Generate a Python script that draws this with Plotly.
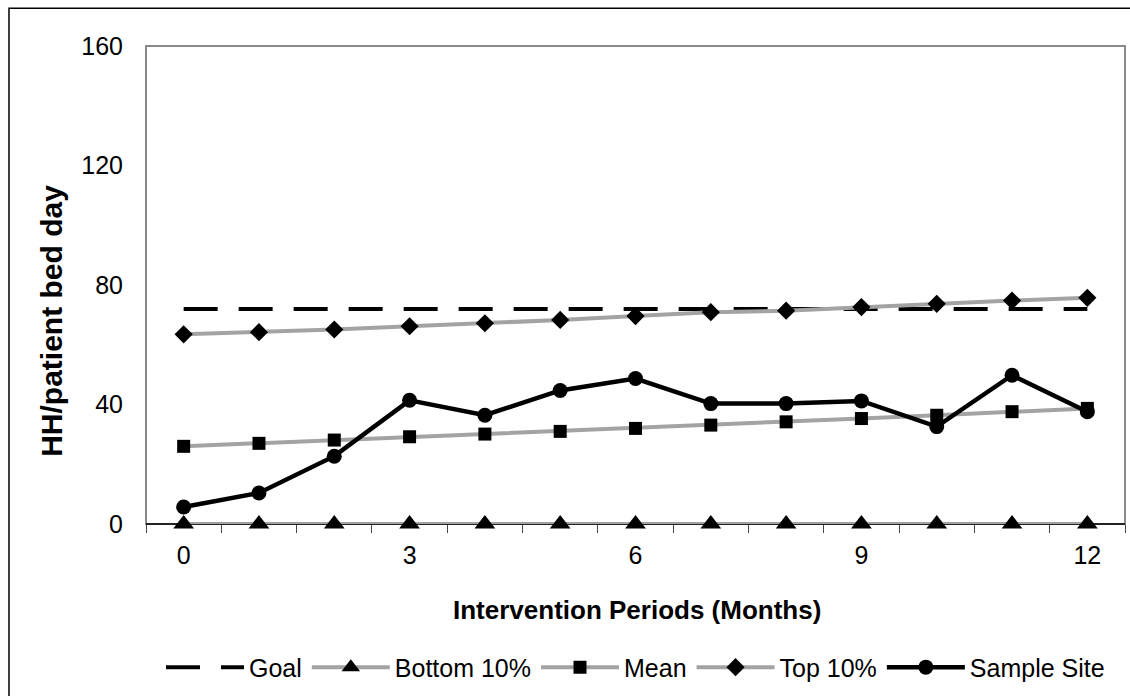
import plotly.graph_objects as go

# ---- data ----
months = list(range(13))
tick_months = [0, 3, 6, 9, 12]
y_ticks = [0, 40, 80, 120, 160]
goal = [72] * 13
bottom10 = [0] * 13
mean = [26.0, 27.0, 28.1, 29.2, 30.1, 31.0, 32.0, 33.1, 34.2, 35.3, 36.4, 37.6, 38.7]
top10 = [63.5, 64.2, 65.1, 66.2, 67.2, 68.3, 69.6, 70.9, 71.4, 72.6, 73.7, 74.8, 75.7]
sample = [5.7, 10.4, 22.7, 41.4, 36.4, 44.7, 48.7, 40.3, 40.3, 41.2, 32.6, 49.8, 37.6]
boundaries = [m - 0.5 for m in months] + [12.5]

W, H = 1130, 696
L, R, T, B = 146, 5, 46, 170
PW, PH = W - L - R, H - T - B

def px_x(p):
    return (p - L) / PW

def px_y(p):
    return (T + PH - p) / PH

GRAY = "#a3a3a3"
FONT = "Liberation Sans, Arial, sans-serif"

fig = go.Figure()
fig.add_trace(go.Scatter(x=months, y=goal, name="Goal", mode="lines",
                         line=dict(color="black", width=4, dash="34px,21px"),
                         cliponaxis=False))
fig.add_trace(go.Scatter(x=months, y=bottom10, name="Bottom 10%", mode="lines+markers",
                         line=dict(color=GRAY, width=4),
                         marker=dict(symbol="triangle-up", size=18, color="black"),
                         cliponaxis=False))
fig.add_trace(go.Scatter(x=months, y=mean, name="Mean", mode="lines+markers",
                         line=dict(color=GRAY, width=4),
                         marker=dict(symbol="square", size=13, color="black"),
                         cliponaxis=False))
fig.add_trace(go.Scatter(x=months, y=top10, name="Top 10%", mode="lines+markers",
                         line=dict(color=GRAY, width=4),
                         marker=dict(symbol="diamond", size=14, color="black"),
                         cliponaxis=False))
fig.add_trace(go.Scatter(x=months, y=sample, name="Sample Site", mode="lines+markers",
                         line=dict(color="black", width=4.5),
                         marker=dict(symbol="circle", size=15, color="black"),
                         cliponaxis=False))

fig.update_layout(
    width=W, height=H, autosize=False,
    margin=dict(l=L, r=R, t=T, b=B, pad=0),
    paper_bgcolor="white", plot_bgcolor="white",
    font=dict(family=FONT, size=25, color="black"),
    showlegend=True,
    legend=dict(orientation="h", x=0.5, xanchor="center", y=px_y(670), yanchor="middle",
                font=dict(size=25), itemwidth=78, bgcolor="rgba(0,0,0,0)"),
    xaxis=dict(range=[-0.5, 12.5], tickmode="array", tickvals=tick_months,
               ticktext=[str(m) for m in tick_months], ticks="", showgrid=False,
               zeroline=False, showline=False,
               layer="below traces", ticklabelstandoff=14,
               tickfont=dict(size=25),
               minor=dict(tickmode="array", tickvals=boundaries, ticks="outside",
                          ticklen=8, tickwidth=1, tickcolor="#444444", showgrid=False)),
    yaxis=dict(range=[0, 160], tickmode="array", tickvals=y_ticks, ticks="",
               showgrid=False, zeroline=False, showline=False,
               ticklabelstandoff=22, tickfont=dict(size=25)),
    shapes=[
        dict(type="rect", xref="paper", yref="paper", x0=0, x1=1, y0=0, y1=1,
             line=dict(color="#8a8a8a", width=2), layer="below"),
        dict(type="line", xref="paper", yref="paper", x0=0, x1=1, y0=0, y1=0,
             line=dict(color="black", width=1.5), layer="below"),
        dict(type="rect", xref="paper", yref="paper", x0=px_x(9), x1=px_x(1140),
             y0=px_y(705), y1=px_y(8), line=dict(color="black", width=1.5), layer="below"),
    ],
    annotations=[
        dict(text="<b>Intervention Periods (Months)</b>", xref="paper", yref="paper",
             x=px_x(637), y=px_y(612), xanchor="center", yanchor="middle",
             showarrow=False, font=dict(size=26)),
        dict(text="<b>HH/patient bed day</b>", xref="paper", yref="paper",
             x=px_x(52), y=px_y(322), xanchor="center", yanchor="middle",
             textangle=-90, showarrow=False, font=dict(size=30)),
    ],
)

fig.write_html("out.html", config={"displayModeBar": False},
               post_script="document.body.style.margin='0px';document.body.style.overflow='hidden';")
